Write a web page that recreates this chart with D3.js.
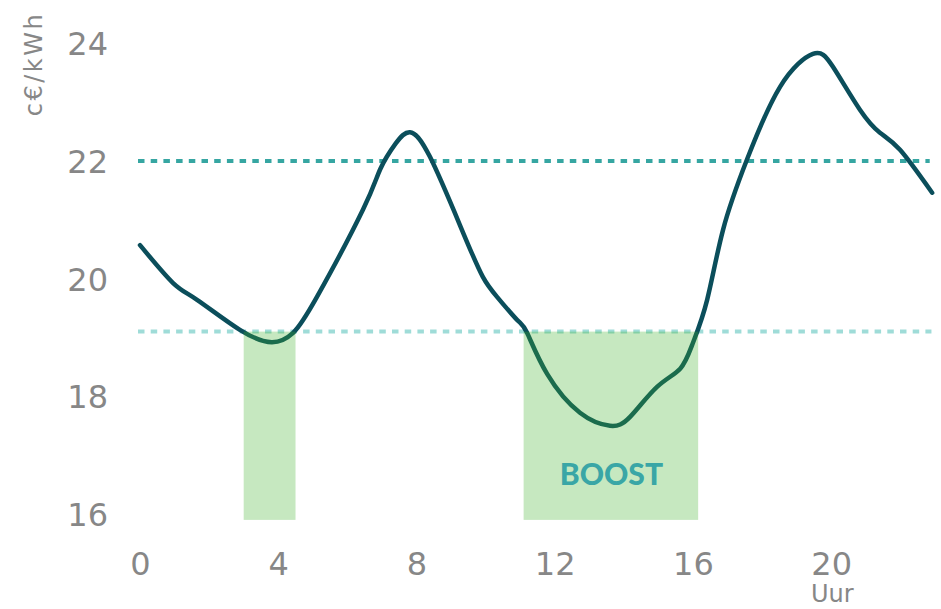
<!DOCTYPE html>
<html>
<head>
<meta charset="utf-8">
<script src="https://cdn.jsdelivr.net/npm/d3@7"></script>
<style>
  html, body { margin: 0; padding: 0; background: #ffffff; }
  svg { display: block; }
</style>
</head>
<body>
<svg id="chart" width="941" height="609"></svg>
<script>
// Hourly electricity price profile (hour of day, c€/kWh)
const hours = [0, 0.95, 1.65, 2.89, 3.82, 4.43, 5.12, 6.45, 6.95, 7.4, 7.81, 8.39, 9.35, 9.92, 10.33, 10.91, 11.2, 11.78, 12.73, 13.6, 14.18, 14.96, 15.63, 16.0, 16.41, 16.87, 17.56, 18.52, 19.47, 20.05, 20.83, 21.41, 21.99, 22.92];
const prices = [20.57, 19.93, 19.64, 19.13, 18.92, 19.08, 19.69, 21.17, 21.86, 22.3, 22.49, 22.07, 20.78, 20.03, 19.69, 19.3, 19.08, 18.38, 17.72, 17.5, 17.65, 18.16, 18.47, 18.91, 19.64, 20.83, 22.02, 23.26, 23.82, 23.6, 22.87, 22.48, 22.19, 21.46];

// Reference levels: upper price level and the boost threshold
const upperLevel = 22;
const boostLevel = 19.1;

// Windows where the price sits below the boost threshold
const boostStart = [3.0, 11.1];
const boostEnd = [4.5, 16.15];
const boostBase = 15.9;

// Tick labels
const xTicks = [0, 4, 8, 12, 16, 20];
const yTicks = [16, 18, 20, 22, 24];

const svg = d3.select("#chart");

const x = d3.scaleLinear().domain([0, 23]).range([140, 934.9]);
const y = d3.scaleLinear().domain([16, 24]).range([514, 43.3]);

const tickFont = "DejaVu Sans, sans-serif";
const grey = "#878787";

// Dotted reference lines
svg.append("line")
  .attr("x1", x(0) - 2).attr("x2", x(22.85))
  .attr("y1", y(upperLevel)).attr("y2", y(upperLevel))
  .attr("stroke", "#36a6a2").attr("stroke-width", 4)
  .attr("stroke-dasharray", "6.5,6.2");

svg.append("line")
  .attr("x1", x(0) - 2).attr("x2", x(22.9))
  .attr("y1", y(boostLevel)).attr("y2", y(boostLevel))
  .attr("stroke", "#9fdcd8").attr("stroke-width", 4)
  .attr("stroke-dasharray", "6.5,6.2");

// Price curve
const series = hours.map((h, i) => ({ h, p: prices[i] }));
const line = d3.line()
  .x(d => x(d.h))
  .y(d => y(d.p))
  .curve(d3.curveNatural);

svg.append("path")
  .datum(series)
  .attr("d", line)
  .attr("fill", "none")
  .attr("stroke", "#0b4e5b")
  .attr("stroke-width", 4.5)
  .attr("stroke-linecap", "round")
  .attr("stroke-linejoin", "round");

// Boost windows, translucent so the curve shows through
const windows = boostStart.map((s, i) => ({ s, e: boostEnd[i] }));
svg.append("g")
  .selectAll("rect")
  .data(windows)
  .join("rect")
  .attr("x", d => x(d.s))
  .attr("width", d => x(d.e) - x(d.s))
  .attr("y", y(boostLevel))
  .attr("height", y(boostBase) - y(boostLevel))
  .attr("fill", "rgb(65,178,45)")
  .attr("fill-opacity", 0.3);

svg.append("text")
  .attr("x", (x(boostStart[1]) + x(boostEnd[1])) / 2 + 0.5)
  .attr("y", 485)
  .attr("text-anchor", "middle")
  .attr("font-family", "Lato, sans-serif")
  .attr("font-weight", 900)
  .attr("font-size", 30)
  .attr("fill", "#3aa6a6")
  .text("BOOST");

// Axes (labels only)
const xAxis = d3.axisBottom(x)
  .tickValues(xTicks)
  .tickSize(0)
  .tickPadding(38)
  .tickFormat(d3.format("d"));

const gx = svg.append("g")
  .attr("transform", `translate(0,${y(16)})`)
  .call(xAxis);
gx.select(".domain").remove();
gx.selectAll("text")
  .attr("font-family", tickFont)
  .attr("font-size", 32)
  .attr("fill", grey);

const yAxis = d3.axisLeft(y)
  .tickValues(yTicks)
  .tickSize(0)
  .tickPadding(32)
  .tickFormat(d3.format("d"));

const gy = svg.append("g")
  .attr("transform", `translate(${x(0)},0)`)
  .call(yAxis);
gy.select(".domain").remove();
gy.selectAll("text")
  .attr("font-family", tickFont)
  .attr("font-size", 32)
  .attr("fill", grey)
  .attr("dy", "0.36em");

// Axis titles
svg.append("text")
  .attr("x", x(20) + 1)
  .attr("y", 602)
  .attr("text-anchor", "middle")
  .attr("font-family", tickFont)
  .attr("font-size", 24)
  .attr("fill", grey)
  .text("Uur");

svg.append("text")
  .attr("transform", "translate(42,64) rotate(-90)")
  .attr("text-anchor", "middle")
  .attr("font-family", tickFont)
  .attr("font-size", 24)
  .attr("letter-spacing", 2.5)
  .attr("fill", grey)
  .text("c€/kWh");
</script>
</body>
</html>
